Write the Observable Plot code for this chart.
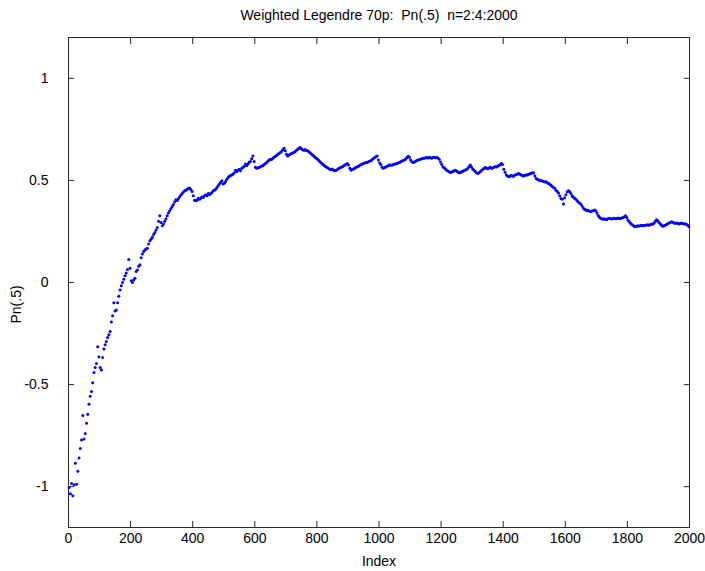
<!DOCTYPE html>
<html>
<head>
<meta charset="utf-8">
<script src="https://cdn.jsdelivr.net/npm/d3@7"></script>
<script src="https://cdn.jsdelivr.net/npm/@observablehq/plot@0.6"></script>
<style>
  html, body { margin: 0; padding: 0; background: #fff; }
  #chart svg text { white-space: pre; }
</style>
</head>
<body>
<div id="chart"></div>
<script>
// Weighted Legendre sum at x = .5, sampled at n = 2:4:2000
const titleText = "Weighted Legendre 70p:  Pn(.5)  n=2:4:2000";
const xLabel = "Index";
const yLabel = "Pn(.5)";
const xTicks = [0, 200, 400, 600, 800, 1000, 1200, 1400, 1600, 1800, 2000];
const yTicks = [-1, -0.5, 0, 0.5, 1];

// n = 2 .. 398
const pnBlock1 = [
  -1.004, -1.035, -0.984, -1.045, -0.991, -0.885, -0.988, -0.925, -0.860, -0.813,
  -0.772, -0.651, -0.767, -0.739, -0.689, -0.645, -0.596, -0.557, -0.534, -0.491,
  -0.441, -0.416, -0.397, -0.315, -0.364, -0.416, -0.429, -0.367, -0.326, -0.305,
  -0.289, -0.269, -0.256, -0.240, -0.194, -0.163, -0.099, -0.140, -0.135, -0.099,
  -0.067, -0.037, -0.016, 0.000, 0.016, 0.033, 0.047, 0.064, 0.113, 0.070,
  0.008, 0.000, 0.012, 0.021, 0.054, 0.061, 0.080, 0.087, 0.121, 0.139,
  0.152, 0.159, 0.164, 0.168, 0.188, 0.204, 0.212, 0.222, 0.235, 0.245,
  0.257, 0.269, 0.300, 0.327, 0.294, 0.278, 0.286, 0.300, 0.312, 0.327,
  0.340, 0.352, 0.362, 0.372, 0.382, 0.395, 0.405, 0.402, 0.410, 0.420,
  0.428, 0.436, 0.443, 0.449, 0.452, 0.457, 0.462, 0.463, 0.456, 0.446
];
// n = 402 .. 798
const pnBlock2 = [
  0.425, 0.403, 0.400, 0.403, 0.413, 0.408, 0.413, 0.420, 0.416, 0.425,
  0.430, 0.425, 0.436, 0.430, 0.436, 0.441, 0.449, 0.452, 0.457, 0.465,
  0.474, 0.482, 0.490, 0.498, 0.482, 0.486, 0.495, 0.506, 0.514, 0.521,
  0.524, 0.527, 0.531, 0.537, 0.550, 0.544, 0.550, 0.555, 0.547, 0.560,
  0.565, 0.570, 0.580, 0.573, 0.580, 0.589, 0.593, 0.606, 0.619, 0.593,
  0.565, 0.560, 0.562, 0.563, 0.567, 0.571, 0.572, 0.578, 0.583, 0.588,
  0.594, 0.600, 0.604, 0.602, 0.608, 0.614, 0.618, 0.622, 0.628, 0.632,
  0.637, 0.642, 0.650, 0.658, 0.645, 0.628, 0.620, 0.624, 0.628, 0.632,
  0.634, 0.637, 0.642, 0.648, 0.652, 0.657, 0.661, 0.655, 0.650, 0.648,
  0.652, 0.646, 0.645, 0.640, 0.636, 0.630, 0.625, 0.620, 0.614, 0.608
];
// n = 802 .. 1198
const pnBlock3 = [
  0.604, 0.598, 0.592, 0.585, 0.580, 0.575, 0.570, 0.566, 0.562, 0.558,
  0.555, 0.552, 0.556, 0.550, 0.547, 0.549, 0.554, 0.558, 0.562, 0.565,
  0.567, 0.572, 0.575, 0.579, 0.583, 0.575, 0.560, 0.550, 0.553, 0.556,
  0.560, 0.564, 0.567, 0.570, 0.574, 0.578, 0.580, 0.583, 0.585, 0.588,
  0.588, 0.592, 0.595, 0.596, 0.602, 0.607, 0.612, 0.616, 0.620, 0.600,
  0.585, 0.578, 0.565, 0.560, 0.563, 0.566, 0.570, 0.572, 0.575, 0.576,
  0.574, 0.578, 0.581, 0.580, 0.583, 0.586, 0.588, 0.591, 0.595, 0.598,
  0.600, 0.605, 0.612, 0.618, 0.614, 0.600, 0.592, 0.588, 0.590, 0.594,
  0.597, 0.600, 0.602, 0.604, 0.607, 0.609, 0.608, 0.611, 0.612, 0.610,
  0.613, 0.611, 0.608, 0.612, 0.614, 0.611, 0.612, 0.610, 0.604, 0.590
];
// n = 1202 .. 1598
const pnBlock4 = [
  0.578, 0.566, 0.562, 0.556, 0.550, 0.546, 0.542, 0.539, 0.541, 0.544,
  0.548, 0.550, 0.546, 0.541, 0.538, 0.539, 0.542, 0.545, 0.548, 0.551,
  0.554, 0.560, 0.568, 0.576, 0.566, 0.556, 0.550, 0.544, 0.538, 0.534,
  0.538, 0.543, 0.548, 0.553, 0.558, 0.563, 0.560, 0.557, 0.561, 0.564,
  0.560, 0.561, 0.565, 0.568, 0.566, 0.570, 0.573, 0.577, 0.583, 0.578,
  0.555, 0.540, 0.527, 0.522, 0.518, 0.522, 0.525, 0.521, 0.522, 0.526,
  0.529, 0.532, 0.534, 0.530, 0.526, 0.523, 0.522, 0.525, 0.527, 0.527,
  0.530, 0.533, 0.535, 0.537, 0.536, 0.522, 0.510, 0.506, 0.502, 0.498,
  0.500, 0.497, 0.495, 0.492, 0.494, 0.488, 0.485, 0.481, 0.476, 0.470,
  0.465, 0.462, 0.452, 0.446, 0.438, 0.425, 0.412, 0.408, 0.384, 0.415
];
// n = 1602 .. 1998
const pnBlock5 = [
  0.430, 0.445, 0.449, 0.445, 0.436, 0.425, 0.418, 0.413, 0.408, 0.400,
  0.394, 0.388, 0.384, 0.375, 0.365, 0.358, 0.356, 0.352, 0.354, 0.349,
  0.348, 0.350, 0.352, 0.355, 0.352, 0.340, 0.328, 0.320, 0.315, 0.312,
  0.310, 0.312, 0.310, 0.309, 0.313, 0.314, 0.312, 0.311, 0.314, 0.314,
  0.312, 0.313, 0.316, 0.314, 0.314, 0.316, 0.318, 0.322, 0.327, 0.318,
  0.305, 0.298, 0.290, 0.284, 0.280, 0.276, 0.273, 0.275, 0.278, 0.276,
  0.279, 0.280, 0.278, 0.281, 0.280, 0.282, 0.283, 0.281, 0.284, 0.285,
  0.286, 0.292, 0.300, 0.307, 0.302, 0.294, 0.286, 0.280, 0.276, 0.278,
  0.281, 0.284, 0.288, 0.291, 0.294, 0.297, 0.295, 0.292, 0.290, 0.292,
  0.290, 0.287, 0.289, 0.291, 0.289, 0.286, 0.288, 0.285, 0.280, 0.273
];

// index vector n = 2:4:2000
const nIndex = d3.range(2, 2001, 4);
const pnValues = [...pnBlock1, ...pnBlock2, ...pnBlock3, ...pnBlock4, ...pnBlock5];
const points = nIndex.map((n, i) => ({n, pn: pnValues[i]}));

const axisColor = "#262626";
const fmt = d => String(d);
const blank = () => "";

const chart = Plot.plot({
  width: 705,
  height: 571,
  marginLeft: 68,
  marginRight: 16,
  marginTop: 37,
  marginBottom: 44,
  style: {
    fontFamily: "'Liberation Sans', Arial, Helvetica, sans-serif",
    fontSize: "14px",
    color: "#000",
    background: "#fff"
  },
  x: {domain: [0, 2000], label: null},
  y: {domain: [-1.2, 1.2], label: null},
  marks: [
    Plot.frame({stroke: axisColor, strokeWidth: 1}),
    // MATLAB-style inward ticks on all four sides
    Plot.axisX(xTicks, {anchor: "bottom", tickSize: 6, insetBottom: 6, tickPadding: 6,
      tickFormat: fmt, label: null, stroke: axisColor, fill: "#000", fontSize: 14}),
    Plot.axisX(xTicks, {anchor: "top", tickSize: 6, insetTop: 6,
      tickFormat: blank, label: null, stroke: axisColor}),
    Plot.axisY(yTicks, {anchor: "left", tickSize: 6, insetLeft: 6, tickPadding: 20,
      tickFormat: fmt, label: null, stroke: axisColor, fill: "#000", fontSize: 14}),
    Plot.axisY(yTicks, {anchor: "right", tickSize: 6, insetRight: 6,
      tickFormat: blank, label: null, stroke: axisColor}),
    Plot.dot(points, {x: "n", y: "pn", r: 1.5, fill: "#0000ff"}),
    Plot.text([titleText], {text: d => d, frameAnchor: "top", dy: -22, lineAnchor: "middle", fill: "#000", fontSize: 14}),
    Plot.text([xLabel], {text: d => d, frameAnchor: "bottom", dy: 34, lineAnchor: "middle", fill: "#000", fontSize: 14}),
    Plot.text([yLabel], {text: d => d, frameAnchor: "left", dx: -52, dy: 41, rotate: -90, lineAnchor: "middle", fill: "#000", fontSize: 14})
  ]
});

document.getElementById("chart").append(chart);
</script>
</body>
</html>
